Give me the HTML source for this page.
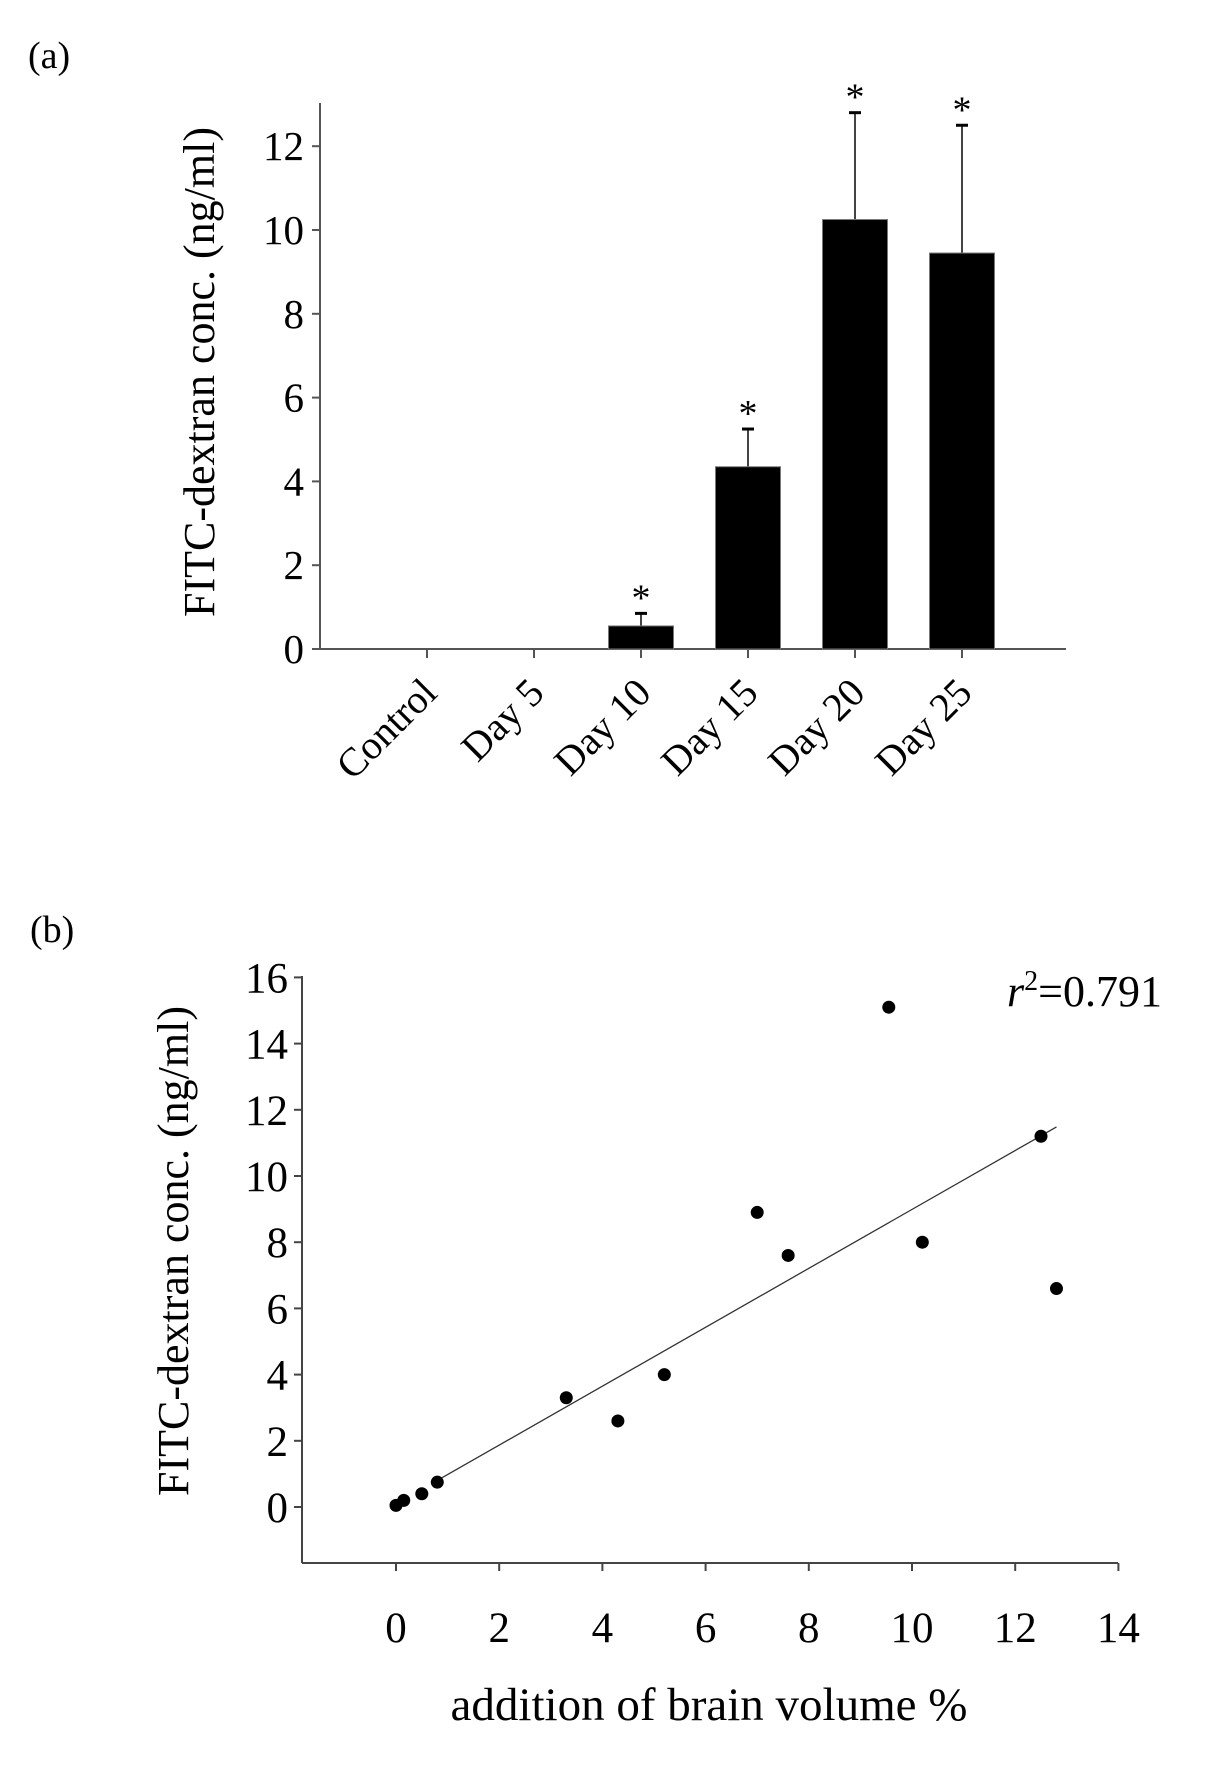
<!DOCTYPE html>
<html><head><meta charset="utf-8"><style>
html,body{margin:0;padding:0;background:#fff;}
svg{display:block;font-family:"Liberation Serif",serif;}
</style></head><body>
<svg width="1217" height="1775" viewBox="0 0 1217 1775">
<text x="28" y="68" font-size="38">(a)</text>
<g id="ca"></g>
<text x="30" y="942" font-size="38">(b)</text>
<g id="cb"></g>
</svg>
<script>
const NS="http://www.w3.org/2000/svg";
function mk(p,t,a){const e=document.createElementNS(NS,t);for(const k in a)e.setAttribute(k,a[k]);p.appendChild(e);return e;}
// Panel a data
const catsA=["Control","Day 5","Day 10","Day 15","Day 20","Day 25"];
const valsA=[0,0,0.55,4.35,10.25,9.45];
const errA=[0,0,0.85,5.25,12.8,12.5];
const sigA=[false,false,true,true,true,true];
const ticksA=[0,2,4,6,8,10,12];
// Panel b data
const xsB=[0,0.15,0.5,0.8,3.3,4.3,5.2,7.0,7.6,9.55,10.2,12.5,12.8];
const ysB=[0.05,0.2,0.4,0.75,3.3,2.6,4.0,8.9,7.6,15.1,8.0,11.2,6.6];
const fitB=[0.8,12.8];
const fitCoef=[0.09,0.89];
const yTicksB=[0,2,4,6,8,10,12,14,16];
const xTicksB=[0,2,4,6,8,10,12,14];

(function(){
const g=document.getElementById('ca');
const x0=320,x1=1066,y0=649,yTop=103,k=41.9,step=107,c0=427,bw=65;
const Y=v=>y0-v*k, X=i=>c0+i*step;
let e=mk(g,'line',{x1:x0,y1:yTop,x2:x0,y2:y0,stroke:'#555','stroke-width':2});

e=mk(g,'line',{x1:x0,y1:y0,x2:x1,y2:y0,stroke:'#555','stroke-width':2});

ticksA.forEach(t=>{
 mk(g,'line',{x1:x0-8,y1:Y(t),x2:x0,y2:Y(t),stroke:'#555','stroke-width':2});
 const tx=mk(g,'text',{x:x0-16,y:Y(t)+14,'font-size':41,'text-anchor':'end'});tx.textContent=t;
 
});
catsA.forEach((c,i)=>{
 const cx=X(i);
 mk(g,'line',{x1:cx,y1:y0,x2:cx,y2:y0+9,stroke:'#555','stroke-width':2});
 if(valsA[i]>0){
  if(errA[i]>valsA[i]){
   mk(g,'line',{x1:cx,y1:Y(errA[i]),x2:cx,y2:Y(valsA[i]),stroke:'#444','stroke-width':2});
   mk(g,'line',{x1:cx-6,y1:Y(errA[i]),x2:cx+6,y2:Y(errA[i]),stroke:'#000','stroke-width':3});
  }
  const r=mk(g,'rect',{x:cx-bw/2,y:Y(valsA[i]),width:bw,height:valsA[i]*k,fill:'#000',stroke:'#777','stroke-width':1});
  
 }
 if(sigA[i]){const s=mk(g,'text',{x:cx,y:Y(errA[i])-3,'font-size':38,'text-anchor':'middle'});s.textContent='*';
  }
 const l=mk(g,'text',{x:0,y:0,'font-size':40,'text-anchor':'end',transform:`translate(${cx+12},${y0+46}) rotate(-45)`});l.textContent=c;
 
});
const t=mk(g,'text',{x:0,y:0,'font-size':44,'text-anchor':'middle',transform:'translate(214,372) rotate(-90)'});t.textContent='FITC-dextran conc. (ng/ml)';

})();

(function(){
const g=document.getElementById('cb');
const ax=302,y0=1507,kY=33.1,x0=396,kX=51.6,yBot=1563,xEnd=1118,yTop=976;
const Y=v=>y0-v*kY, X=v=>x0+v*kX;
let e=mk(g,'line',{x1:ax,y1:yTop,x2:ax,y2:yBot,stroke:'#444','stroke-width':2});

e=mk(g,'line',{x1:ax,y1:yBot,x2:xEnd,y2:yBot,stroke:'#444','stroke-width':2});

yTicksB.forEach(t=>{
 mk(g,'line',{x1:ax-8,y1:Y(t),x2:ax,y2:Y(t),stroke:'#444','stroke-width':2});
 const tx=mk(g,'text',{x:ax-14,y:Y(t)+15,'font-size':43,'text-anchor':'end'});tx.textContent=t;
 
});
xTicksB.forEach(t=>{
 mk(g,'line',{x1:X(t),y1:yBot,x2:X(t),y2:yBot+8,stroke:'#444','stroke-width':2});
 const tx=mk(g,'text',{x:X(t),y:1642,'font-size':43,'text-anchor':'middle'});tx.textContent=t;
 
});
const ln=mk(g,'line',{x1:X(fitB[0]),y1:Y(fitCoef[0]+fitCoef[1]*fitB[0]),x2:X(fitB[1]),y2:Y(fitCoef[0]+fitCoef[1]*fitB[1]),stroke:'#333','stroke-width':1.3});

xsB.forEach((x,i)=>{
 const c=mk(g,'circle',{cx:X(x),cy:Y(ysB[i]),r:6.5,fill:'#000'});
 
});
const r=mk(g,'text',{x:1007,y:1006,'font-size':44});r.innerHTML='<tspan font-style="italic">r</tspan><tspan dy="-16" font-size="28">2</tspan><tspan dy="16">=0.791</tspan>';

const t=mk(g,'text',{x:0,y:0,'font-size':44,'text-anchor':'middle',transform:'translate(188,1251) rotate(-90)'});t.textContent='FITC-dextran conc. (ng/ml)';

const xt=mk(g,'text',{x:709,y:1720,'font-size':47,'text-anchor':'middle'});xt.textContent='addition of brain volume %';

})();
</script>
</body></html>
